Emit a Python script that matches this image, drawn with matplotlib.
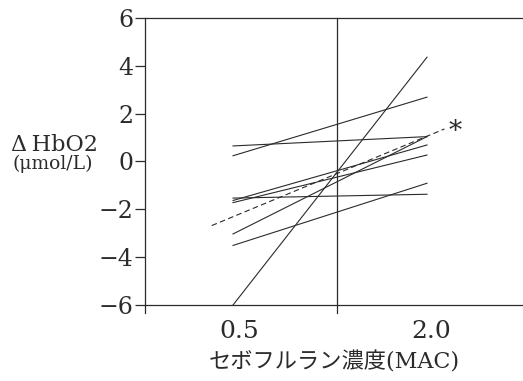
import matplotlib
matplotlib.use("Agg")
from matplotlib import pyplot as plt

plt.rcParams['font.family'] = ['DejaVu Serif', 'Noto Sans CJK JP']

# each subject: value at 0.5 MAC and at 2.0 MAC
mac_labels = ['0.5', '2.0']
hbo2_low = [-6.0, 0.24, 0.65, -3.03, -1.53, -1.63, -1.72, -3.51]
hbo2_high = [4.36, 2.69, 1.04, 1.04, -1.37, 0.69, 0.27, -0.91]

# dashed trend line (extended past both doses)
trend_x = [-0.11, 1.09]
trend_y = [-2.68, 1.36]

ink = '#2b2b2b'

fig = plt.figure(figsize=(5.23, 3.81), dpi=100)
ax = fig.add_axes([0.2772, 0.1995, 0.7228, 0.7533])

for lo, hi in zip(hbo2_low, hbo2_high):
    ax.plot([0, 1], [lo, hi], color=ink, lw=0.8)

ax.plot(trend_x, trend_y, color=ink, lw=0.8, linestyle=(0, (5, 3)))
ax.text(trend_x[1] + 0.02, trend_y[1] - 0.1, '*', fontsize=19, color=ink,
        ha='left', va='center')

ax.set_xlim(-0.454, 1.495)
ax.set_ylim(-6, 6)

# divider between the two doses, running a little below the axis
ax.plot([0.536, 0.536], [6, -6.33], color=ink, lw=0.9, clip_on=False)
ax.plot([-0.454, -0.454], [-6, -6.33], color=ink, lw=0.9, clip_on=False)

ax.spines['right'].set_visible(False)
for side in ['left', 'top', 'bottom']:
    ax.spines[side].set_color(ink)
    ax.spines[side].set_linewidth(0.9)

ax.set_yticks(range(-6, 7, 2))
ax.set_yticklabels([f'\u2212{abs(v)}' if v < 0 else str(v) for v in range(-6, 7, 2)])
ax.tick_params(axis='y', direction='out', length=7, width=0.9, color=ink,
               labelsize=17, labelcolor=ink, pad=1)

ax.set_xticks([0.03, 1.02])
ax.set_xticklabels(mac_labels)
ax.tick_params(axis='x', length=0, labelsize=18, labelcolor=ink, pad=11)

ax.set_xlabel('セボフルラン濃度(MAC)', fontsize=16, color=ink, labelpad=6)

fig.text(0.104, 0.619, 'Δ\u2009HbO2', fontsize=16, color=ink, ha='center', va='center')
fig.text(0.101, 0.570, '(μmol/L)', fontsize=13.5, color=ink, ha='center', va='center')

fig.savefig('out.png', dpi=100)
